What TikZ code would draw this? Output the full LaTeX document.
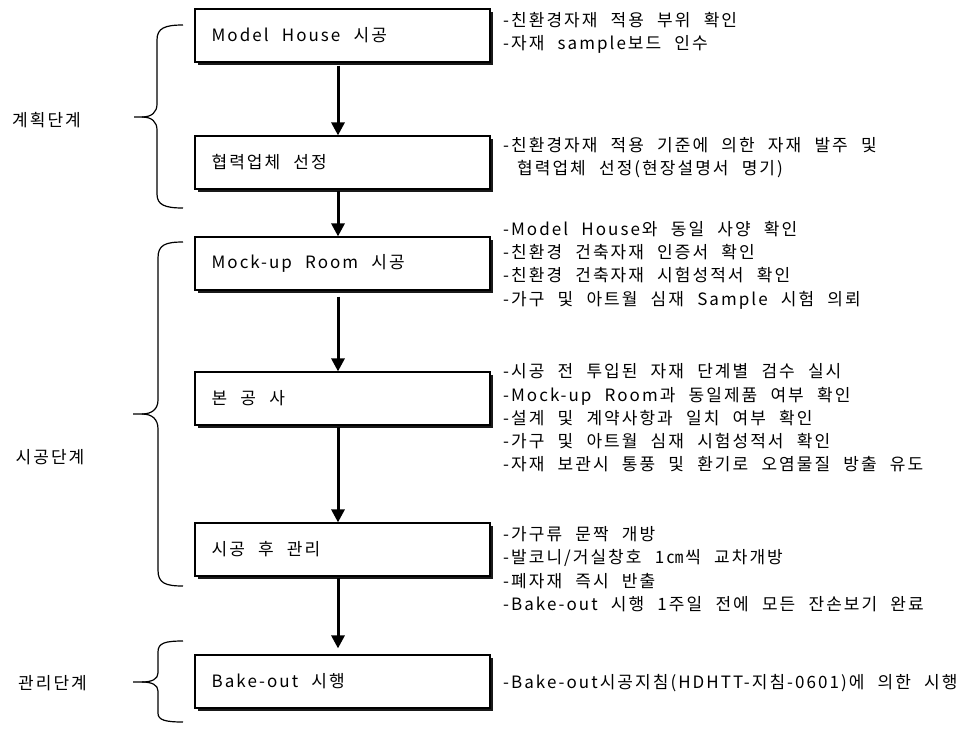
\documentclass[tikz,border=0pt]{standalone}
\usepackage{fontspec}
\setmainfont{Noto Sans CJK KR}[LetterSpace=12,WordSpace=2.26]
\usetikzlibrary{arrows.meta,shadows}
\begin{document}
\begin{tikzpicture}[x=1pt,y=-1pt,
  stepbox/.style={draw=black,line width=1.2pt,fill=white,rectangle,
    minimum width=295pt,minimum height=53pt,inner sep=0pt,
    drop shadow={shadow xshift=3pt,shadow yshift=-3pt,fill=black,opacity=0.9}},
  boxtext/.style={anchor=west,inner sep=0pt,font=\fontsize{17}{20}\selectfont},
  note/.style={anchor=west,inner sep=0pt,align=left,font=\fontsize{17}{23.3}\selectfont},
  phase/.style={inner sep=0pt,font=\fontsize{17}{20}\selectfont},
  flow/.style={line width=3pt,-{Triangle[width=13pt,length=13pt]}},
  brace/.style={line width=1.2pt}]
\useasboundingbox (0,0) rectangle (978,729);
\fill[white] (0,0) rectangle (978,729);

% boxes
\node[stepbox] (b1) at (342.5,35.5) {};
\node[stepbox] (b2) at (342.5,162.5) {};
\node[stepbox] (b3) at (342.5,263.5) {};
\node[stepbox] (b4) at (342.5,398.5) {};
\node[stepbox] (b5) at (342.5,549.5) {};
\node[stepbox] (b6) at (342.5,681.5) {};
\node[boxtext] (t1) at ([xshift=17pt]b1.west) {Model House 시공};
\node[boxtext] (t2) at ([xshift=17pt]b2.west) {협력업체 선정};
\node[boxtext] (t3) at ([xshift=17pt]b3.west) {Mock-up Room 시공};
\node[boxtext] (t4) at ([xshift=17pt]b4.west) {본 공 사};
\node[boxtext] (t5) at ([xshift=17pt]b5.west) {시공 후 관리};
\node[boxtext] (t6) at ([xshift=17pt]b6.west) {Bake-out 시행};

% arrows
\draw[flow] ([xshift=-4.5pt,yshift=-3pt]b1.south) -- ([xshift=-4.5pt]b2.north);
\draw[flow] ([xshift=-4.5pt,yshift=-1pt]b2.south) -- ([xshift=-4.5pt]b3.north);
\draw[flow] ([xshift=-4.5pt,yshift=-6pt]b3.south) -- ([xshift=-4.5pt]b4.north);
\draw[flow] ([xshift=-4.5pt,yshift=-1pt]b4.south) -- ([xshift=-4.5pt]b5.north);
\draw[flow] ([xshift=-4.5pt,yshift=-1pt]b5.south) -- ([xshift=-4.5pt,yshift=6pt]b6.north);

% notes
\node[note] (n1) at (503,33) {-친환경자재 적용 부위 확인\\-자재 sample보드 인수};
\node[note] (n2) at (503,157.5) {-친환경자재 적용 기준에 의한 자재 발주 및\\\hspace*{14pt}협력업체 선정(현장설명서 명기)};
\node[note] (n3) at (503,265) {-Model House와 동일 사양 확인\\-친환경 건축자재 인증서 확인\\-친환경 건축자재 시험성적서 확인\\-가구 및 아트월 심재 Sample 시험 의뢰};
\node[note] (n4) at (503,418) {-시공 전 투입된 자재 단계별 검수 실시\\-Mock-up Room과 동일제품 여부 확인\\-설계 및 계약사항과 일치 여부 확인\\-가구 및 아트월 심재 시험성적서 확인\\-자재 보관시 통풍 및 환기로 오염물질 방출 유도};
\node[note] (n5) at (503,569) {-가구류 문짝 개방\\-발코니/거실창호 1㎝씩 교차개방\\-폐자재 즉시 반출\\-Bake-out 시행 1주일 전에 모든 잔손보기 완료};
\node[note] (n6) at (503,683) {-Bake-out시공지침(HDHTT-지침-0601)에 의한 시행};

% braces
\draw[brace] (183,25) .. controls (165,25) and (157,28) .. (157,40) -- (157,104)
  .. controls (157,112) and (152,117) .. (142,117) -- (134,117);
\draw[brace] (142,117) .. controls (152,117) and (157,122) .. (157,130) -- (157,194)
  .. controls (157,205) and (165,208) .. (183,208);
\draw[brace] (183,242) .. controls (165,242) and (158,245) .. (158,258) -- (158,400)
  .. controls (158,409) and (152,414) .. (142,414) -- (133,414);
\draw[brace] (142,414) .. controls (152,414) and (158,419) .. (158,429) -- (158,570)
  .. controls (158,583) and (165,586) .. (183,586);
\draw[brace] (183,641) .. controls (165,641) and (158,643) .. (158,652) -- (158,673)
  .. controls (158,679) and (152,682) .. (142,682) -- (133,682);
\draw[brace] (142,682) .. controls (152,682) and (158,685) .. (158,691) -- (158,713)
  .. controls (158,720) and (165,722) .. (183,722);

% phase labels
\node[phase] (p1) at (46.5,120) {계획단계};
\node[phase] (p2) at (50,457) {시공단계};
\node[phase] (p3) at (52.5,683) {관리단계};
\end{tikzpicture}
\end{document}
